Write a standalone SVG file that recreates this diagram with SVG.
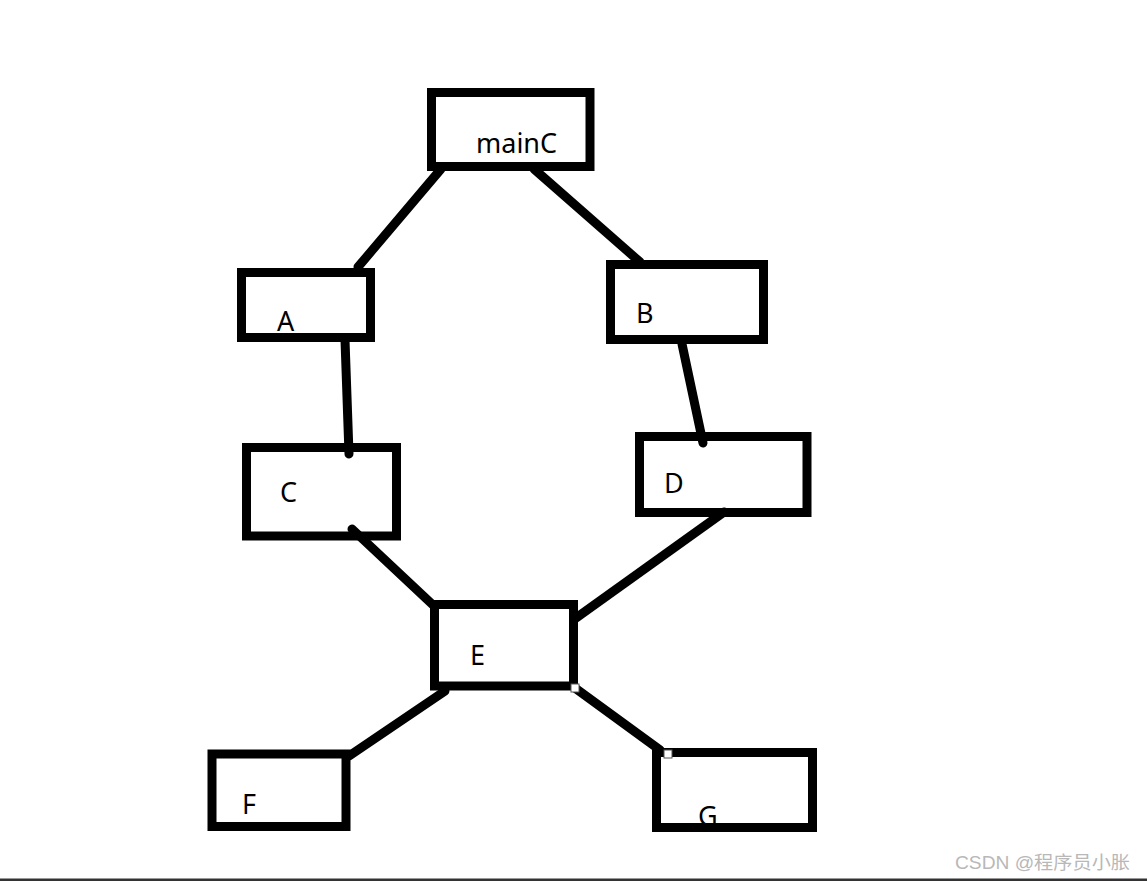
<svg xmlns="http://www.w3.org/2000/svg" width="1147" height="881" viewBox="0 0 1147 881">
<style>
.box{fill:none;stroke:#000;stroke-width:9}
.lbl{font-family:"Noto Sans","Open Sans","DejaVu Sans",sans-serif;font-size:27px;fill:#000}
.edge{stroke:#000;stroke-width:9;stroke-linecap:round;fill:none}
.handle{fill:#fff;stroke:#555;stroke-width:1}
.wm{font-family:"Liberation Sans","Noto Sans CJK SC",sans-serif;font-size:18px;fill:#b8b8b8}
</style>
<rect x="0" y="0" width="1147" height="881" fill="#fff"/>
<g id="connectors">
<line class="edge" x1="441" y1="169" x2="358" y2="267"/>
<line class="edge" x1="534" y1="169" x2="640" y2="262"/>
<line class="edge" x1="345" y1="340" x2="349" y2="454"/>
<line class="edge" x1="682" y1="344" x2="703" y2="443"/>
<line class="edge" x1="352" y1="529" x2="433" y2="605"/>
<line class="edge" x1="724" y1="512" x2="576" y2="618"/>
<line class="edge" x1="445" y1="691" x2="349" y2="756"/>
<line class="edge" x1="575" y1="688" x2="660" y2="750"/>
</g>
<g id="node-mainC"><text class="lbl" x="476" y="153">mainC</text><rect class="box" x="431.5" y="92.5" width="158.5" height="74"/></g>
<g id="node-A"><text class="lbl" x="277" y="331">A</text><rect class="box" x="241.5" y="272.5" width="129" height="65"/></g>
<g id="node-B"><text class="lbl" x="636" y="323">B</text><rect class="box" x="610.5" y="264.5" width="153" height="75"/></g>
<g id="node-C"><text class="lbl" x="280" y="502">C</text><rect class="box" x="246.5" y="447.5" width="150" height="88.5"/></g>
<g id="node-D"><text class="lbl" x="664" y="493">D</text><rect class="box" x="639.5" y="436.5" width="167.5" height="76"/></g>
<g id="node-E"><text class="lbl" x="470" y="665">E</text><rect class="box" x="434.5" y="604.5" width="139" height="81.5"/></g>
<g id="node-F"><text class="lbl" x="242" y="814">F</text><rect class="box" x="212" y="754" width="134" height="72.5"/></g>
<g id="node-G"><text class="lbl" x="698" y="826">G</text><rect class="box" x="656.5" y="752.5" width="156" height="75"/></g>
<rect class="handle" x="571" y="684" width="8" height="8"/>
<rect class="handle" x="664" y="750" width="8" height="8"/>
<text class="wm" x="955" y="869" textLength="175" lengthAdjust="spacingAndGlyphs">CSDN @程序员小胀</text>
<rect x="0" y="878.5" width="1147" height="2.5" fill="#333"/>
</svg>
